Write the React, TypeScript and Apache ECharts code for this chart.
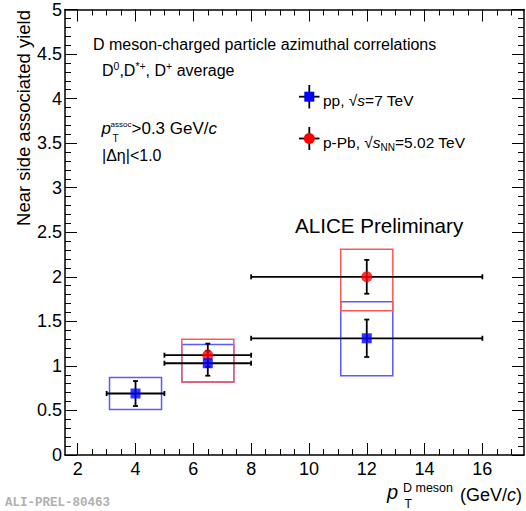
import React, { useEffect, useRef } from 'react';
import * as echarts from 'echarts';

// ---- data ----
const ptCenter = [4, 6.5, 12];
const ptLow = [3, 5, 8];
const ptHigh = [5, 8, 16];
const systXLow = [3.1, 5.6, 11.1];
const systXHigh = [4.9, 7.4, 12.9];

const ppYield = [0.69, 1.03, 1.31];
const ppStat = [0.14, 0.14, 0.21];
const ppSystLow = [0.51, 0.82, 0.89];
const ppSystHigh = [0.87, 1.24, 1.72];

const pPbYield: (number | null)[] = [null, 1.12, 2.0];
const pPbStat: (number | null)[] = [null, 0.13, 0.19];
const pPbSystLow: (number | null)[] = [null, 0.82, 1.62];
const pPbSystHigh: (number | null)[] = [null, 1.3, 2.31];

const xMajorTicks = [2, 4, 6, 8, 10, 12, 14, 16];
const xMinorTicks = [2, 2.5, 3, 3.5, 4, 4.5, 5, 5.5, 6, 6.5, 7, 7.5, 8, 8.5, 9, 9.5, 10, 10.5, 11, 11.5, 12, 12.5, 13, 13.5, 14, 14.5, 15, 15.5, 16, 16.5, 17];

const X_MIN = 1.56;
const X_MAX = 17.44;
const Y_MIN = 0;
const Y_MAX = 5;

const FONT = "'Liberation Sans', Arial, Helvetica, sans-serif";

function buildRows(yv: (number | null)[], stat: (number | null)[], sl: (number | null)[], sh: (number | null)[]) {
  const boxes: number[][] = [];
  const errs: number[][] = [];
  const pts: number[][] = [];
  for (let i = 0; i < ptCenter.length; i++) {
    const y = yv[i];
    if (y == null) continue;
    boxes.push([systXLow[i], systXHigh[i], sl[i] as number, sh[i] as number]);
    errs.push([ptCenter[i], ptLow[i], ptHigh[i], y, y - (stat[i] as number), y + (stat[i] as number)]);
    pts.push([ptCenter[i], y]);
  }
  return { boxes, errs, pts };
}

function boxSeries(data: number[][], color: string, z: number) {
  return {
    type: 'custom',
    xAxisIndex: 0,
    yAxisIndex: 0,
    z,
    data,
    encode: { x: [0, 1], y: [2, 3] },
    renderItem: (params: any, api: any) => {
      const p1 = api.coord([api.value(0), api.value(3)]);
      const p2 = api.coord([api.value(1), api.value(2)]);
      return {
        type: 'rect',
        shape: { x: p1[0], y: p1[1], width: p2[0] - p1[0], height: p2[1] - p1[1] },
        style: { fill: 'none', stroke: color, lineWidth: 1.5 },
      };
    },
  };
}

function errSeries(data: number[][], z: number) {
  return {
    type: 'custom',
    xAxisIndex: 0,
    yAxisIndex: 0,
    z,
    data,
    encode: { x: [0, 1, 2], y: [3, 4, 5] },
    renderItem: (params: any, api: any) => {
      const x = api.value(0), xl = api.value(1), xh = api.value(2);
      const y = api.value(3), yl = api.value(4), yh = api.value(5);
      const l = api.coord([xl, y]);
      const r = api.coord([xh, y]);
      const b = api.coord([x, yl]);
      const t = api.coord([x, yh]);
      const cap = 2.5;
      const st = { stroke: '#000', lineWidth: 1.8 };
      const ln = (x1: number, y1: number, x2: number, y2: number) => ({ type: 'line', shape: { x1, y1, x2, y2 }, style: st });
      return {
        type: 'group',
        children: [
          ln(l[0], l[1], r[0], r[1]),
          ln(b[0], b[1], t[0], t[1]),
          ln(l[0], l[1] - cap, l[0], l[1] + cap),
          ln(r[0], r[1] - cap, r[0], r[1] + cap),
          ln(b[0] - cap, b[1], b[0] + cap, b[1]),
          ln(t[0] - cap, t[1], t[0] + cap, t[1]),
        ],
      };
    },
  };
}

function xAxisDef(position: string, major: boolean, labels: boolean) {
  return {
    type: 'value',
    position,
    min: X_MIN,
    max: X_MAX,
    axisLine: { show: major, onZero: false, lineStyle: { color: '#000', width: 1.5 } },
    axisTick: {
      show: true,
      inside: true,
      length: major ? 12 : 6,
      customValues: major ? xMajorTicks : xMinorTicks,
      lineStyle: { color: '#000', width: 1 },
    },
    axisLabel: labels
      ? { show: true, customValues: xMajorTicks, fontSize: 18, color: '#000', fontFamily: FONT, margin: 5 }
      : { show: false },
    splitLine: { show: false },
  };
}

function yAxisDef(position: string, labels: boolean) {
  return {
    type: 'value',
    position,
    min: Y_MIN,
    max: Y_MAX,
    interval: 0.5,
    axisLine: { show: true, onZero: false, lineStyle: { color: '#000', width: 1.5 } },
    axisTick: { show: true, inside: true, length: 12, lineStyle: { color: '#000', width: 1 } },
    minorTick: { show: true, splitNumber: 5, length: 6, lineStyle: { color: '#000', width: 1 } },
    axisLabel: labels
      ? { show: true, fontSize: 18, color: '#000', fontFamily: FONT, margin: 3 }
      : { show: false },
    splitLine: { show: false },
    minorSplitLine: { show: false },
  };
}

export default function App() {
  const ref = useRef<HTMLDivElement>(null);

  useEffect(() => {
    if (!ref.current) return;
    const chart = echarts.init(ref.current, undefined, { renderer: 'svg' });
    const pp = buildRows(ppYield, ppStat, ppSystLow, ppSystHigh);
    const pPb = buildRows(pPbYield, pPbStat, pPbSystLow, pPbSystHigh);

    const txt = (x: number, y: number, text: string, extra: any = {}) => ({
      type: 'text',
      x,
      y,
      z: 100,
      style: {
        text,
        fontFamily: FONT,
        fontSize: 16,
        fill: '#000',
        textAlign: 'left',
        textVerticalAlign: 'middle',
        ...extra,
      },
    });
    const gl = (x1: number, y1: number, x2: number, y2: number) => ({
      type: 'line',
      z: 100,
      shape: { x1, y1, x2, y2 },
      style: { stroke: '#000', lineWidth: 1.8 },
    });

    const supRich = {
      n: { fontSize: 16, fontFamily: FONT, lineHeight: 20, verticalAlign: 'middle' },
      sup: { fontSize: 10.5, fontFamily: FONT, lineHeight: 6, verticalAlign: 'top' },
    };

    const option: any = {
      animation: false,
      backgroundColor: '#fff',
      grid: { left: 65, right: 2, top: 9.5, bottom: 56, containLabel: false, outerBoundsMode: 'none' },
      xAxis: [
        xAxisDef('bottom', true, true),
        xAxisDef('bottom', false, false),
        xAxisDef('top', true, false),
        xAxisDef('top', false, false),
      ],
      yAxis: [yAxisDef('left', true), yAxisDef('right', false)],
      series: [
        boxSeries(pp.boxes, '#5a5aff', 2),
        boxSeries(pPb.boxes, '#ff5a5a', 2),
        errSeries(pPb.errs, 3),
        errSeries(pp.errs, 3),
        {
          type: 'scatter',
          xAxisIndex: 0,
          yAxisIndex: 0,
          z: 4,
          data: pPb.pts,
          symbol: 'circle',
          symbolSize: 11,
          itemStyle: { color: '#ff0000' },
        },
        {
          type: 'scatter',
          xAxisIndex: 0,
          yAxisIndex: 0,
          z: 5,
          data: pp.pts,
          symbol: 'rect',
          symbolSize: 10,
          itemStyle: { color: '#0000ff' },
        },
      ],
      graphic: [
        // y axis title
        {
          type: 'text',
          x: 23,
          y: 10,
          rotation: Math.PI / 2,
          style: {
            text: 'Near side associated yield',
            fontFamily: FONT,
            fontSize: 18.5,
            fill: '#000',
            textAlign: 'right',
            textVerticalAlign: 'middle',
          },
        },
        // x axis title
        txt(387, 492, 'p', { fontSize: 20, fontStyle: 'italic' }),
        txt(403, 487.5, 'D meson', { fontSize: 12.5 }),
        txt(404.5, 503.5, 'T', { fontSize: 12 }),
        {
          type: 'text',
          x: 522,
          y: 494.5,
          z: 100,
          style: {
            text: '{n|(GeV/}{i|c}{n|)}',
            textAlign: 'right',
            textVerticalAlign: 'middle',
            rich: {
              n: { fontSize: 18, fontFamily: FONT },
              i: { fontSize: 18, fontFamily: FONT, fontStyle: 'italic' },
            },
          },
        },
        // annotations
        txt(93, 44, 'D meson-charged particle azimuthal correlations', { fontSize: 16 }),
        {
          type: 'text',
          x: 102,
          y: 70,
          z: 100,
          style: {
            text: '{n|D}{sup|0}{n|,D}{sup|*+}{n|, D}{sup|+}{n| average}',
            textAlign: 'left',
            textVerticalAlign: 'middle',
            rich: supRich,
          },
        },
        txt(101.5, 128, 'p', { fontSize: 17, fontStyle: 'italic' }),
        txt(110.5, 124, 'assoc', { fontSize: 8 }),
        txt(112.5, 138, 'T', { fontSize: 10 }),
        {
          type: 'text',
          x: 131.5,
          y: 128.5,
          z: 100,
          style: {
            text: '{n|>0.3 GeV/}{i|c}',
            textAlign: 'left',
            textVerticalAlign: 'middle',
            rich: {
              n: { fontSize: 17, fontFamily: FONT },
              i: { fontSize: 17, fontFamily: FONT, fontStyle: 'italic' },
            },
          },
        },
        txt(102, 155, '|\u0394\u03b7|<1.0', { fontSize: 16 }),
        txt(295, 225, 'ALICE Preliminary', { fontSize: 20.6 }),
        // legend pp
        gl(309.3, 85, 309.3, 108.5),
        gl(299, 96.7, 319.5, 96.7),
        { type: 'rect', z: 101, shape: { x: 304.3, y: 91.7, width: 10, height: 10 }, style: { fill: '#0000ff' } },
        {
          type: 'text',
          x: 323,
          y: 100.5,
          z: 100,
          style: {
            text: '{n|pp, \u221a}{i|s}{n|=7 TeV}',
            textAlign: 'left',
            textVerticalAlign: 'middle',
            rich: {
              n: { fontSize: 15.5, fontFamily: FONT, lineHeight: 20 },
              i: { fontSize: 15.5, fontFamily: FONT, fontStyle: 'italic', lineHeight: 20 },
            },
          },
        },
        // legend p-Pb
        gl(309.3, 127, 309.3, 150),
        gl(299, 138.5, 319.5, 138.5),
        { type: 'circle', z: 101, shape: { cx: 309.3, cy: 138.5, r: 5.5 }, style: { fill: '#ff0000' } },
        {
          type: 'text',
          x: 323,
          y: 142.5,
          z: 100,
          style: {
            text: '{n|p-Pb, \u221a}{i|s}{sub|NN}{n|=5.02 TeV}',
            textAlign: 'left',
            textVerticalAlign: 'middle',
            rich: {
              n: { fontSize: 15.5, fontFamily: FONT, lineHeight: 20 },
              i: { fontSize: 15.5, fontFamily: FONT, fontStyle: 'italic', lineHeight: 20 },
              sub: { fontSize: 10, fontFamily: FONT, lineHeight: 8, verticalAlign: 'bottom' },
            },
          },
        },
        // preliminary id
        {
          type: 'text',
          x: 5,
          y: 503,
          style: {
            text: 'ALI-PREL-80463',
            fontFamily: "'Liberation Mono', 'DejaVu Sans Mono', monospace",
            fontSize: 12.5,
            fontWeight: 'bold',
            fill: '#b0b0b0',
            textAlign: 'left',
            textVerticalAlign: 'middle',
          },
        },
      ],
    };
    chart.setOption(option);
    return () => chart.dispose();
  }, []);

  return <div ref={ref} style={{ position: 'absolute', left: 0, top: 0, width: 526, height: 511 }} />;
}
